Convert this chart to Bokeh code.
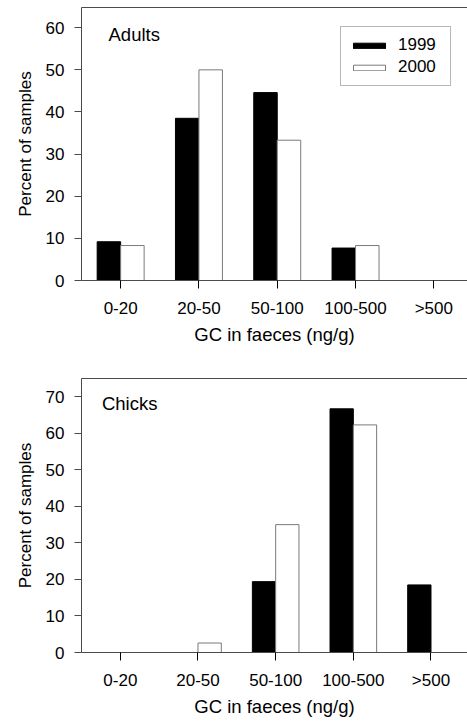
from bokeh.plotting import figure
from bokeh.layouts import column
from bokeh.models import (FixedTicker, LinearAxis, Legend, LegendItem, Label,
                          ColumnDataSource, Range1d)
from bokeh.transform import dodge
from bokeh.embed import file_html
from bokeh.resources import INLINE

categories = ["0-20", "20-50", "50-100", "100-500", ">500"]
adults_1999 = [9.2, 38.5, 44.6, 7.7, 0.0]
adults_2000 = [8.3, 50.0, 33.3, 8.3, 0.0]
chicks_1999 = [0.0, 0.0, 19.4, 66.7, 18.5]
chicks_2000 = [0.0, 2.6, 35.0, 62.3, 0.0]
years = ["1999", "2000"]
adults_yticks = [0, 10, 20, 30, 40, 50, 60]
chicks_yticks = [0, 10, 20, 30, 40, 50, 60, 70]

FONT = "Liberation Sans"
AX = "#4a4a4a"


def make_panel(v99, v00, yticks, ymax, xmax, title, tx, ty, width, height,
               left, top, bottom, legend=False):
    xs = list(range(len(categories)))
    src = ColumnDataSource(dict(x=xs, a=v99, b=v00))
    p = figure(width=width, height=height, output_backend="svg",
               toolbar_location=None, x_range=Range1d(-0.5, xmax),
               y_range=Range1d(0, ymax), min_border_left=left,
               min_border_right=0, min_border_top=top,
               min_border_bottom=bottom)
    p.outline_line_color = None
    p.xgrid.visible = False
    p.ygrid.visible = False
    p.background_fill_color = "white"

    r1 = p.vbar(x=dodge("x", -0.15, range=p.x_range), top="a", width=0.3,
                source=src, fill_color="black", line_color="black",
                line_width=1)
    r2 = p.vbar(x=dodge("x", 0.15, range=p.x_range), top="b", width=0.3,
                source=src, fill_color="white", line_color="#7a7a7a",
                line_width=1)

    xa = p.xaxis[0]
    xa.ticker = FixedTicker(ticks=xs)
    xa.major_label_overrides = {i: c for i, c in zip(xs, categories)}
    xa.major_tick_in = 0
    xa.major_tick_out = 8
    xa.minor_tick_line_color = None
    xa.axis_line_color = AX
    xa.major_tick_line_color = "black"
    xa.major_label_text_font = FONT
    xa.major_label_text_font_size = "17px"
    xa.major_label_text_color = "black"
    xa.major_label_standoff = 10
    xa.axis_label = "GC in faeces (ng/g)"
    xa.axis_label_text_font = FONT
    xa.axis_label_text_font_size = "18.5px"
    xa.axis_label_text_font_style = "normal"
    xa.axis_label_text_color = "black"
    xa.axis_label_standoff = 3

    ya = p.yaxis[0]
    ya.ticker = FixedTicker(ticks=yticks)
    ya.major_tick_in = 0
    ya.major_tick_out = 7
    ya.minor_tick_line_color = None
    ya.axis_line_color = AX
    ya.major_tick_line_color = AX
    ya.major_label_text_font = FONT
    ya.major_label_text_font_size = "17px"
    ya.major_label_text_color = "black"
    ya.major_label_standoff = 10
    ya.axis_label = "Percent of samples"
    ya.axis_label_text_font = FONT
    ya.axis_label_text_font_size = "17px"
    ya.axis_label_text_font_style = "normal"
    ya.axis_label_text_color = "black"
    ya.axis_label_standoff = 8

    top_axis = LinearAxis(ticker=FixedTicker(ticks=[]), axis_line_color=AX,
                          major_label_text_font_size="0px",
                          minor_tick_line_color=None,
                          major_tick_line_color=None)
    p.add_layout(top_axis, "above")

    p.add_layout(Label(x=tx, y=ty, text=title, text_font=FONT,
                       text_font_size="18.5px", text_baseline="middle",
                       text_color="black"))

    if legend:
        lg = Legend(items=[LegendItem(label=years[0], renderers=[r1]),
                           LegendItem(label=years[1], renderers=[r2])],
                    location=(259, 194), glyph_width=40, glyph_height=7,
                    label_text_font=FONT, label_text_font_size="17px",
                    label_text_color="black",
                    label_standoff=9, label_height=20, label_width=44,
                    spacing=2, padding=8, margin=0,
                    border_line_color="#707070", border_line_width=1,
                    background_fill_alpha=1)
        p.add_layout(lg, "center")
    return p


p1 = make_panel(adults_1999, adults_2000, adults_yticks, 64.8, 4.43,
                "Adults", -0.155, 58.5, 467, 360, 81, 7, 80, legend=True)
p2 = make_panel(chicks_1999, chicks_2000, chicks_yticks, 75.0, 4.47,
                "Chicks", -0.237, 68.2, 467, 363, 78, 18, 71)

layout = column(p1, p2, spacing=0)
open("out.html", "w").write(file_html(layout, INLINE))
